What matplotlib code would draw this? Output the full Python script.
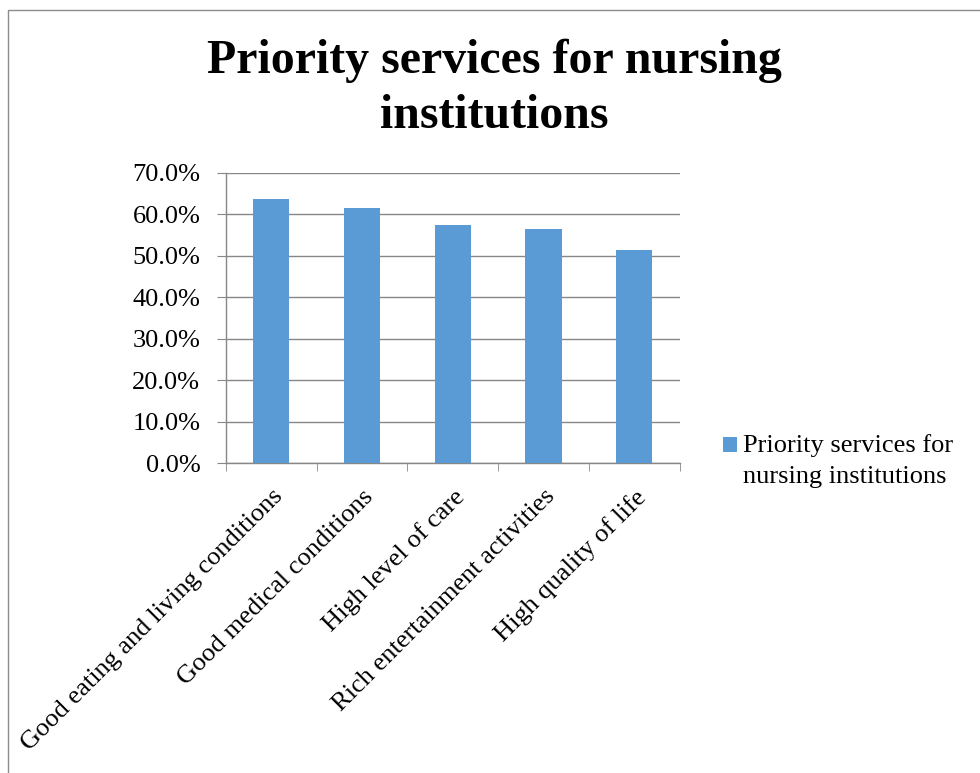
import matplotlib
matplotlib.use("Agg")
import matplotlib.pyplot as plt
from matplotlib.patches import Rectangle
from matplotlib.ticker import FuncFormatter, FixedLocator

categories = [
    "Good eating and living conditions",
    "Good medical conditions",
    "High level of care",
    "Rich entertainment activities",
    "High quality of life",
]
shares = [0.636, 0.615, 0.575, 0.565, 0.515]
series_name = "Priority services for\nnursing institutions"
title_lines = ["Priority services for nursing", "institutions"]

bar_color = "#5B9BD5"
grid_color = "#878787"
serif = ["Liberation Serif", "DejaVu Serif"]
W, H = 980, 773
fs = 19

fig = plt.figure(figsize=(W / 100, H / 100), dpi=100)
fig.patch.set_facecolor("white")

# outer chart frame (runs off the right and bottom edges)
fig.add_artist(Rectangle((7.5 / W, -0.05), 1.1, 1 - 10 / H + 0.05,
                         transform=fig.transFigure, fill=False,
                         edgecolor="#8c8c8c", linewidth=1.0))

left, right, top, bottom = 226, 679.5, 172.7, 463.3
ax = fig.add_axes([left / W, 1 - bottom / H, (right - left) / W, (bottom - top) / H])
x = list(range(len(categories)))
bars = ax.bar(x, shares, width=0.4, color=bar_color, zorder=3)

ax.set_xlim(-0.5, len(categories) - 0.5)
ax.set_ylim(0, 0.7)
ax.set_yticks([i / 10 for i in range(8)])
ax.yaxis.set_major_formatter(FuncFormatter(lambda v, p: f"{v * 100:.1f}%"))
ax.grid(axis="y", color=grid_color, linewidth=1.0, zorder=0)
ax.set_axisbelow(True)

for s in ["top", "right"]:
    ax.spines[s].set_visible(False)
for s in ["left", "bottom"]:
    ax.spines[s].set_color(grid_color)
    ax.spines[s].set_linewidth(1.0)

ax.tick_params(axis="y", direction="out", length=6.5, color=grid_color,
               labelsize=fs, pad=12)
for lbl in ax.get_yticklabels():
    lbl.set_fontfamily(serif)

ax.set_xticks(x)
ax.set_xticklabels(categories, rotation=45, ha="right", rotation_mode="anchor",
                   fontsize=fs, fontfamily=serif)
ax.tick_params(axis="x", which="major", length=0, pad=16)
ax.xaxis.set_minor_locator(FixedLocator([i - 0.5 for i in range(len(categories) + 1)]))
ax.tick_params(axis="x", which="minor", direction="out", length=5.5, color=grid_color)

# two-line bold title
fig.text(494.5 / W, 1 - 73.3 / H, title_lines[0], ha="center", va="baseline",
         fontsize=34.5, fontweight="bold", fontfamily=serif)
fig.text(494.5 / W, 1 - 128 / H, title_lines[1], ha="center", va="baseline",
         fontsize=34.5, fontweight="bold", fontfamily=serif)

# legend: colour swatch plus two-line series name
fig.add_artist(Rectangle((722.7 / W, 1 - 452 / H), 14 / W, 14.7 / H,
                         transform=fig.transFigure, facecolor=bar_color,
                         edgecolor="none"))
fig.text(742.7 / W, 1 - 452.3 / H, series_name.split("\n")[0], ha="left",
         va="baseline", fontsize=fs, fontfamily=serif)
fig.text(742.7 / W, 1 - 483.3 / H, series_name.split("\n")[1], ha="left",
         va="baseline", fontsize=fs, fontfamily=serif)

fig.savefig("out.png", dpi=100)
